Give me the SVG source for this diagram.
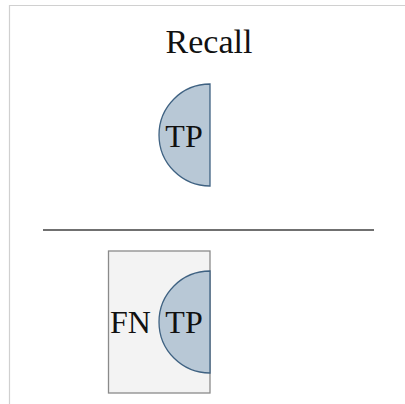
<svg xmlns="http://www.w3.org/2000/svg" width="405" height="404" viewBox="0 0 405 404">
<style>
text{font-family:"Liberation Serif","Times New Roman",serif;fill:#111}
.semi{fill:#b8c8d6;stroke:#3f6282;stroke-width:1.3}
</style>
<rect width="405" height="404" fill="#fff"/>
<path d="M9.5 404 V5.5 H405" fill="none" stroke="#d0d0d0" stroke-width="1.2"/>
<text x="209" y="53" font-size="34" text-anchor="middle">Recall</text>
<g id="tp-top">
<path class="semi" d="M210 84 A51 51 0 0 0 210 186 Z"/>
<text x="184" y="147" font-size="32" text-anchor="middle">TP</text>
</g>
<g id="connectors">
<line x1="43" y1="230" x2="374" y2="230" stroke="#707070" stroke-width="2"/>
</g>
<g id="fn-box">
<rect x="108.5" y="251" width="101.5" height="142" fill="#f3f3f3" stroke="#8a8a8a" stroke-width="1.3"/>
<path class="semi" d="M210 271 A51 51 0 0 0 210 373 Z"/>
<text x="130.5" y="333" font-size="32" text-anchor="middle">FN</text>
<text x="184" y="333" font-size="32" text-anchor="middle">TP</text>
</g>
</svg>
